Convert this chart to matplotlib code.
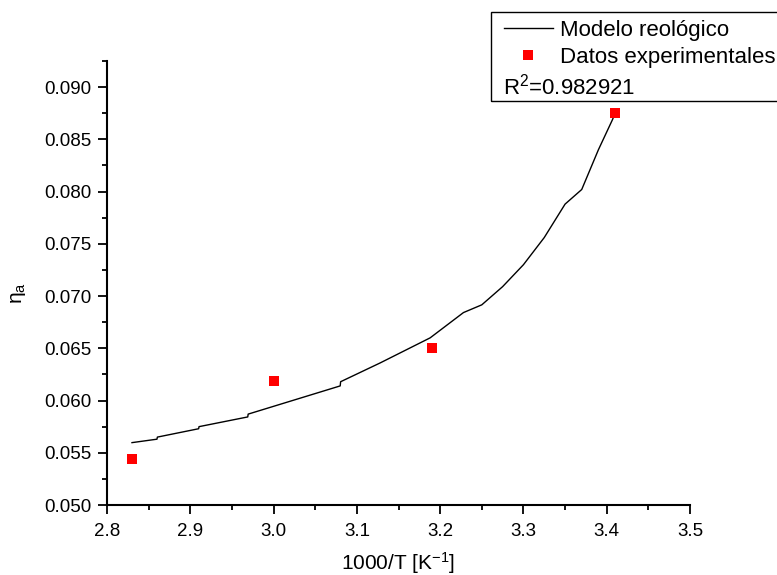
import matplotlib
matplotlib.use("Agg")
import matplotlib.pyplot as plt
from matplotlib.patches import Rectangle
from matplotlib.ticker import MultipleLocator, FormatStrFormatter

plt.rcParams['font.family'] = ['Liberation Sans', 'DejaVu Sans']
plt.rcParams['mathtext.fontset'] = 'custom'
plt.rcParams['mathtext.rm'] = 'Liberation Sans'
plt.rcParams['mathtext.it'] = 'Liberation Sans:italic'

# experimental data
x_exp = [2.83, 3.00, 3.19, 3.41]
y_exp = [0.0544, 0.0619, 0.0650, 0.0875]

# rheological model curve (small steps included)
x_mod = [2.830, 2.860, 2.8605, 2.910, 2.9105, 2.969, 2.9695, 3.080, 3.0805,
         3.128, 3.188, 3.228, 3.250, 3.275, 3.300, 3.325, 3.350, 3.370,
         3.390, 3.407, 3.410]
y_mod = [0.05597, 0.0563, 0.0565, 0.0573, 0.0575, 0.05843, 0.0587, 0.0614, 0.0618,
         0.0636, 0.0660, 0.06842, 0.06916, 0.0709, 0.0730, 0.0756, 0.0788, 0.0802,
         0.0840, 0.0869, 0.0875]

r2_text = "R$^\\mathregular{2}$=0.982921"

W, H = 777, 575
fig = plt.figure(figsize=(W / 100, H / 100), dpi=100)
ax = fig.add_axes([107 / W, 70 / H, 583 / W, 444 / H])

line, = ax.plot(x_mod, y_mod, color='black', lw=1.0, label='Modelo reológico')
pts, = ax.plot(x_exp, y_exp, 's', color='red', ms=6.7, mew=0, label='Datos experimentales')

ax.set_xlim(2.8, 3.5)
ax.set_ylim(0.050, 0.0925)
ax.xaxis.set_major_locator(MultipleLocator(0.1))
ax.xaxis.set_minor_locator(MultipleLocator(0.05))
ax.yaxis.set_major_locator(MultipleLocator(0.005))
ax.yaxis.set_minor_locator(MultipleLocator(0.0025))
ax.xaxis.set_major_formatter(FormatStrFormatter('%.1f'))
ax.yaxis.set_major_formatter(FormatStrFormatter('%.3f'))

for s in ['top', 'right']:
    ax.spines[s].set_visible(False)
for s in ['left', 'bottom']:
    ax.spines[s].set_linewidth(1.5)
ax.tick_params(which='major', direction='out', length=6.5, width=1.3, labelsize=13.5)
ax.tick_params(which='minor', direction='out', length=3.8, width=1.3)
ax.tick_params(axis='x', which='major', pad=6.5)
ax.tick_params(axis='y', which='major', pad=4.5)

ax.set_xlabel("1000/T [K$^\\mathregular{-1}$]", fontsize=15)
ax.xaxis.label.set_verticalalignment('center')
ax.xaxis.set_label_coords(0.5, -58 / 444)
fig.text(18.5 / W, 1 - 293 / H, "η$_\\mathregular{a}$", fontsize=15,
         rotation=90, ha='center', va='center')

# legend box sitting above the plot, right side
fig.patches.append(Rectangle((491 / W, 1 - 101 / H), 310 / W, 89 / H,
                             transform=fig.transFigure, fill=False,
                             edgecolor='black', lw=1.0))
ax.legend(handles=[line, pts], loc='upper left',
          bbox_to_anchor=(504 / W, 1 - 20 / H), bbox_transform=fig.transFigure,
          frameon=False, fontsize=16, handlelength=2.2, handletextpad=0.3,
          labelspacing=0.28, borderpad=0, borderaxespad=0)
fig.text(503 / W, 1 - 94 / H, r2_text, fontsize=16, va='baseline', ha='left')

fig.savefig("out.png", dpi=100)
